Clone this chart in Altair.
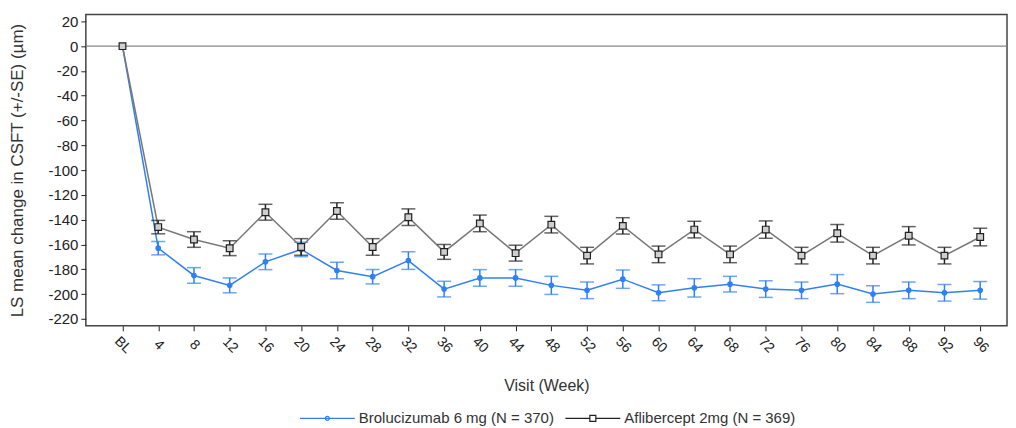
import altair as alt
import pandas as pd

weeks = [0, 4, 8, 12, 16, 20, 24, 28, 32, 36, 40, 44, 48, 52, 56, 60, 64, 68, 72, 76, 80, 84, 88, 92, 96]
brolu_mean = [0, -163, -185, -193, -174, -164, -181, -186, -173, -196, -187, -187, -193,
              -197, -188, -199, -195, -192, -196, -197, -192, -200, -197, -199, -197]
brolu_se = [0, 5.4, 6.3, 6.0, 6.3, 5.8, 6.7, 5.8, 7.1, 6.3, 6.7, 6.7, 7.3,
            6.7, 7.4, 6.4, 7.4, 6.3, 6.7, 6.7, 7.7, 6.7, 6.7, 6.7, 7.1]
afli_mean = [0, -146, -156, -163, -134, -162, -133, -162, -138, -166, -143, -167, -144,
             -169, -145, -168, -148, -168, -148, -169, -151, -169, -153, -169, -154]
afli_se = [0, 5.4, 6.3, 6.0, 6.4, 6.7, 6.6, 6.7, 6.7, 6.0, 6.7, 6.4, 6.7,
           6.7, 6.6, 6.7, 6.7, 6.7, 7.0, 6.7, 7.1, 6.7, 7.4, 6.7, 7.1]
series_names = ["Brolucizumab 6 mg (N = 370)", "Aflibercept 2mg (N = 369)"]
y_ticks = list(range(-220, 21, 20))

BLUE = "#2f80f5"
BLACK = "#222222"
TXT = "#333333"

def frame(mean, se, name):
    return pd.DataFrame({
        "week": weeks, "mean": mean,
        "lo": [m - s for m, s in zip(mean, se)],
        "hi": [m + s for m, s in zip(mean, se)],
        "series": name,
    })

b = frame(brolu_mean, brolu_se, series_names[0])
a = frame(afli_mean, afli_se, series_names[1])

xs = alt.Scale(domain=[-4.1, 99], nice=False, zero=False)
ys = alt.Scale(domain=[-225.6, 25.6], nice=False, zero=False)
X_TITLE = "Visit (Week)"
Y_TITLE = "LS mean change in CSFT (+/-SE) (µm)"

x_axis = alt.Axis(values=weeks, labelExpr="datum.value == 0 ? 'BL' : datum.label",
                  labelAngle=45, labelAlign="center", labelBaseline="middle",
                  labelPadding=14, labelOverlap=False, labelFlush=False,
                  grid=False, domain=False, tickColor="#222",
                  tickSize=5, labelFontSize=14, titleFontSize=16, titlePadding=22,
                  titleFontWeight="normal", labelColor="#222", titleColor=TXT)
y_axis = alt.Axis(values=y_ticks, labelExpr="'' + datum.value",
                  labelOverlap=False, labelFlush=False,
                  grid=False, domain=False, tickColor="#222",
                  tickSize=5, labelFontSize=15, titleFontSize=17, titlePadding=21,
                  labelPadding=3, titleFontWeight="normal", labelColor="#222",
                  titleColor=TXT)

def xenc(field):
    return alt.X(field, type="quantitative", scale=xs, axis=x_axis, title=X_TITLE)

def yenc(field):
    return alt.Y(field, type="quantitative", scale=ys, axis=y_axis, title=Y_TITLE)

zero = alt.Chart(pd.DataFrame({"z": [0]})).mark_rule(color="#888", strokeWidth=1.2).encode(
    y=yenc("z"))

def series_layers(df, color, line_color, shape, size, fill):
    base = alt.Chart(df)
    line = base.mark_line(color=line_color, strokeWidth=1.5).encode(x=xenc("week"), y=yenc("mean"))
    ebase = alt.Chart(df[df.week > 0])
    rule = ebase.mark_rule(color=color, strokeWidth=1.5).encode(
        x=xenc("week"), y=yenc("lo"), y2="hi:Q")
    cap_lo = ebase.mark_tick(color=color, orient="horizontal", size=14, thickness=1.5).encode(
        x=xenc("week"), y=yenc("lo"))
    cap_hi = ebase.mark_tick(color=color, orient="horizontal", size=14, thickness=1.5).encode(
        x=xenc("week"), y=yenc("hi"))
    pts = base.mark_point(shape=shape, size=size, filled=False, fill=fill, color=color,
                          strokeWidth=1.2, opacity=1, fillOpacity=1).encode(
        x=xenc("week"), y=yenc("mean"))
    return [line, rule, cap_lo, cap_hi, pts]

blue_layers = series_layers(b, BLUE, BLUE, "circle", 20, BLUE)
black_layers = series_layers(a, BLACK, "#777777", "square", 45, "#cfcfcf")

# legend-only layer (its points fall outside the plot and are clipped)
leg_df = pd.DataFrame({"series": series_names, "week": [50, 50], "mean": [1000, 1000]})
line_dot = "M-5.5,0H5.5M-0.4,0A0.4,0.4 0 1,0 0.4,0A0.4,0.4 0 1,0 -0.4,0Z"
line_sq = "M-5.5,0H-0.6M0.6,0H5.5M-0.6,-0.6H0.6V0.6H-0.6Z"
legend_layer = alt.Chart(leg_df).mark_point(clip=True, filled=False, strokeWidth=1.2).encode(
    x=xenc("week"),
    y=yenc("mean"),
    color=alt.Color("series:N", sort=series_names,
                    scale=alt.Scale(domain=series_names, range=[BLUE, BLACK]),
                    legend=alt.Legend(title=None, orient="none", direction="horizontal",
                                      legendX=212, legendY=397,
                                      symbolSize=100, symbolStrokeWidth=1.2,
                                      symbolOffset=22.5, labelOffset=24,
                                      symbolOpacity=1,
                                      symbolFillColor="#ffffff", labelFontSize=15,
                                      labelColor=TXT, columnPadding=9,
                                      labelLimit=400)),
    shape=alt.Shape("series:N", sort=series_names,
                    scale=alt.Scale(domain=series_names, range=[line_dot, line_sq]),
                    legend=alt.Legend(title=None, orient="none", direction="horizontal",
                                      legendX=212, legendY=397)),
)

chart = alt.layer(zero, *blue_layers, *black_layers, legend_layer).properties(
    width=923, height=312,
    padding={"left": 0, "top": 5, "right": 0, "bottom": 0},
).configure(font="Liberation Sans").configure_axis(labelOverlap=False).configure_view(
    stroke="#444", strokeWidth=1.5)

chart.save("out.html", embed_options={"renderer": "svg", "actions": False})
